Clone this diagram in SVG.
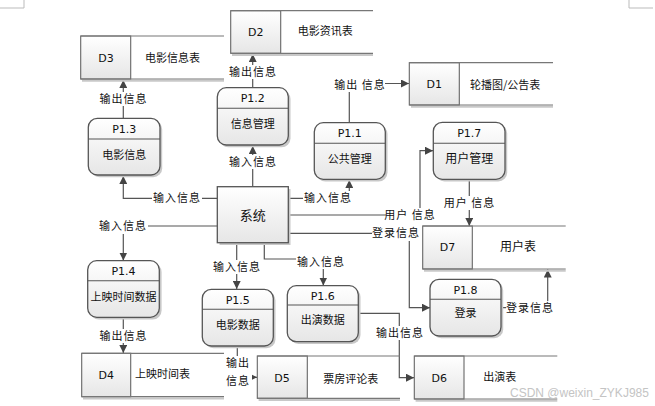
<svg xmlns="http://www.w3.org/2000/svg" width="655" height="406" viewBox="0 0 655 406">
<style>
.t{font-family:"Noto Sans CJK SC","Microsoft YaHei",sans-serif;font-size:11px;fill:#111}
.c{text-anchor:middle}
.id{font-family:"DejaVu Sans","Noto Sans",sans-serif;font-size:11px;fill:#111;text-anchor:middle}
.lbl{font-family:"Noto Sans CJK SC",sans-serif;font-size:11px;fill:#111;text-anchor:middle;letter-spacing:1px}
.bg{fill:#fff}
.conn{fill:none;stroke:#555;stroke-width:1.2}
.pbox{fill:url(#g);stroke:#555;stroke-width:1.3}
.sh{fill:#c8c8c8}
.shl{stroke:#c8c8c8;stroke-width:2;fill:none}
.div{stroke:#555;stroke-width:1.1}
.ds{fill:url(#g);stroke:#666;stroke-width:1.1}
.dl{stroke:#777;stroke-width:1.2}
</style>
<defs>
<linearGradient id="g" x1="0" y1="0" x2="0" y2="1">
<stop offset="0" stop-color="#ffffff"/>
<stop offset="1" stop-color="#e6e6e6"/>
</linearGradient>
<marker id="a" markerUnits="userSpaceOnUse" markerWidth="9" markerHeight="8" refX="8" refY="4" orient="auto">
<path d="M0,0 L8,4 L0,8 z" fill="#444"/>
</marker>
</defs>
<rect width="655" height="406" fill="#fff"/>
<path d="M24,0 V8 H0 M629,0 V8 H653" stroke="#bbb" stroke-width="1" fill="none"/>

<g id="connectors">
<path class="conn" d="M123.3,118 V80" marker-end="url(#a)"/>
<path class="conn" d="M252.7,87.7 V54" marker-end="url(#a)"/>
<path class="conn" d="M252.7,186.7 V146" marker-end="url(#a)"/>
<path class="conn" d="M349.3,122.7 V83.5 H409" marker-end="url(#a)"/>
<path class="conn" d="M217.3,198.3 H123.3 V176" marker-end="url(#a)"/>
<path class="conn" d="M217.3,226 H123.3 V260.5" marker-end="url(#a)"/>
<path class="conn" d="M123.3,317.3 V353" marker-end="url(#a)"/>
<path class="conn" d="M288.3,198.3 H349.3 V180" marker-end="url(#a)"/>
<path class="conn" d="M288.3,215 H420 V150.7 H433" marker-end="url(#a)"/>
<path class="conn" d="M469.3,179.3 V226" marker-end="url(#a)"/>
<path class="conn" d="M288.3,233.3 H409.3 V307.7 H430" marker-end="url(#a)"/>
<path class="conn" d="M501,307.7 H547.7 V269.5" marker-end="url(#a)"/>
<path class="conn" d="M236.7,242.7 V289" marker-end="url(#a)"/>
<path class="conn" d="M264.3,242.7 V259 H323.3 V285.5" marker-end="url(#a)"/>
<path class="conn" d="M237.3,346 V377.3 H257" marker-end="url(#a)"/>
<path class="conn" d="M358.3,313.3 H399.3 V377.7 H414" marker-end="url(#a)"/>
</g>

<g id="labels">
<rect class="bg" x="99" y="92" width="48" height="14"/><text class="lbl" x="123.5" y="103">输出信息</text>
<rect class="bg" x="228" y="65" width="49" height="14"/><text class="lbl" x="253" y="76">输出信息</text>
<rect class="bg" x="228" y="155" width="49" height="14"/><text class="lbl" x="253" y="166">输入信息</text>
<rect class="bg" x="335" y="78" width="50" height="14"/><text class="lbl" x="360" y="89">输出 信息</text>
<rect class="bg" x="152" y="191" width="50" height="14"/><text class="lbl" x="177" y="202">输入信息</text>
<rect class="bg" x="98" y="219" width="50" height="15"/><text class="lbl" x="123" y="230">输入信息</text>
<rect class="bg" x="99" y="329" width="49" height="14"/><text class="lbl" x="123.5" y="340">输出信息</text>
<rect class="bg" x="303" y="191" width="50" height="14"/><text class="lbl" x="328" y="202">输入信息</text>
<rect class="bg" x="386" y="208" width="48" height="14"/><text class="lbl" x="410" y="219">用户 信息</text>
<rect class="bg" x="445" y="196" width="49" height="14"/><text class="lbl" x="469.5" y="207">用户 信息</text>
<rect class="bg" x="372" y="226" width="48" height="15"/><text class="lbl" x="396" y="237">登录信息</text>
<rect class="bg" x="506" y="301" width="48" height="14"/><text class="lbl" x="530" y="312">登录信息</text>
<rect class="bg" x="212" y="260" width="50" height="14"/><text class="lbl" x="237" y="271">输入信息</text>
<rect class="bg" x="296" y="255" width="50" height="14"/><text class="lbl" x="321" y="266">输入信息</text>
<rect class="bg" x="226" y="356" width="26" height="32"/><text class="lbl" x="238" y="367">输出</text><text class="lbl" x="238" y="385">信息</text>
<rect class="bg" x="375" y="326" width="49" height="14"/><text class="lbl" x="400" y="337">输出信息</text>
</g>

<g id="system">
<rect class="sh" x="219.5" y="189" width="71" height="56"/>
<rect class="pbox" x="217.3" y="186.7" width="71" height="56"/>
<text class="t c" x="252.8" y="219.5" style="font-size:13px">系统</text>
</g>

<g id="P1.3">
<rect class="sh" x="90.5" y="120.5" width="71.7" height="56.7" rx="9"/>
<rect class="pbox" x="88.3" y="118.3" width="71.7" height="56.7" rx="9"/>
<line class="div" x1="88.3" y1="139" x2="160" y2="139"/>
<text class="id" x="124.2" y="133">P1.3</text>
<text class="t c" x="124.2" y="159">电影信息</text>
</g>
<g id="P1.2">
<rect class="sh" x="219.5" y="90" width="71" height="57.3" rx="9"/>
<rect class="pbox" x="217.3" y="87.7" width="71" height="57.3" rx="9"/>
<line class="div" x1="217.3" y1="108.3" x2="288.3" y2="108.3"/>
<text class="id" x="252.8" y="102">P1.2</text>
<text class="t c" x="252.8" y="128">信息管理</text>
</g>
<g id="P1.1">
<rect class="sh" x="316.5" y="125" width="71" height="56.6" rx="9"/>
<rect class="pbox" x="314.3" y="122.7" width="71" height="56.6" rx="9"/>
<line class="div" x1="314.3" y1="143.3" x2="385.3" y2="143.3"/>
<text class="id" x="349.8" y="137">P1.1</text>
<text class="t c" x="349.8" y="163">公共管理</text>
</g>
<g id="P1.7">
<rect class="sh" x="435.5" y="124.5" width="71.7" height="57" rx="9"/>
<rect class="pbox" x="433.3" y="122.3" width="71.7" height="57" rx="9"/>
<line class="div" x1="433.3" y1="143.3" x2="505" y2="143.3"/>
<text class="id" x="469.2" y="137">P1.7</text>
<text class="t c" x="469.2" y="162.5" style="font-size:12px">用户管理</text>
</g>
<g id="P1.4">
<rect class="sh" x="90" y="263" width="71.6" height="56.6" rx="9"/>
<rect class="pbox" x="87.7" y="260.7" width="71.6" height="56.6" rx="9"/>
<line class="div" x1="87.7" y1="280.7" x2="159.3" y2="280.7"/>
<text class="id" x="123.5" y="275">P1.4</text>
<text class="t c" x="123.5" y="301">上映时间数据</text>
</g>
<g id="P1.5">
<rect class="sh" x="204.5" y="291.5" width="71" height="56.7" rx="9"/>
<rect class="pbox" x="202.3" y="289.3" width="71" height="56.7" rx="9"/>
<line class="div" x1="202.3" y1="309.3" x2="273.3" y2="309.3"/>
<text class="id" x="237.8" y="304">P1.5</text>
<text class="t c" x="237.8" y="329">电影数据</text>
</g>
<g id="P1.6">
<rect class="sh" x="289.5" y="288" width="71" height="56" rx="9"/>
<rect class="pbox" x="287.3" y="285.7" width="71" height="56" rx="9"/>
<line class="div" x1="287.3" y1="305" x2="358.3" y2="305"/>
<text class="id" x="322.8" y="299.5">P1.6</text>
<text class="t c" x="322.8" y="324">出演数据</text>
</g>
<g id="P1.8">
<rect class="sh" x="432.2" y="281.5" width="71" height="56.7" rx="9"/>
<rect class="pbox" x="430" y="279.3" width="71" height="56.7" rx="9"/>
<line class="div" x1="430" y1="299.3" x2="501" y2="299.3"/>
<text class="id" x="465.5" y="294">P1.8</text>
<text class="t c" x="465.5" y="317">登录</text>
</g>

<g id="D2">
<line class="shl" x1="232" y1="55" x2="373" y2="55"/>
<rect class="ds" x="230.7" y="10.7" width="50" height="42.6"/>
<line class="dl" x1="230.7" y1="10.7" x2="373" y2="10.7"/>
<line class="dl" x1="230.7" y1="53.3" x2="373" y2="53.3"/>
<text class="id" x="255.7" y="36">D2</text>
<text class="t" x="297.7" y="35">电影资讯表</text>
</g>
<g id="D3">
<line class="shl" x1="82" y1="80.7" x2="224" y2="80.7"/>
<rect class="ds" x="80.7" y="36" width="50" height="43"/>
<line class="dl" x1="80.7" y1="36" x2="224" y2="36"/>
<line class="dl" x1="80.7" y1="79" x2="224" y2="79"/>
<text class="id" x="106" y="62">D3</text>
<text class="t" x="145" y="62">电影信息表</text>
</g>
<g id="D1">
<line class="shl" x1="411" y1="106.7" x2="553" y2="106.7"/>
<rect class="ds" x="409.3" y="62.7" width="50" height="42.3"/>
<line class="dl" x1="409.3" y1="62.7" x2="553" y2="62.7"/>
<line class="dl" x1="409.3" y1="105" x2="553" y2="105"/>
<text class="id" x="434.3" y="88">D1</text>
<text class="t" x="470" y="89">轮播图/公告表</text>
</g>
<g id="D7">
<line class="shl" x1="424" y1="270.7" x2="565.7" y2="270.7"/>
<rect class="ds" x="422.7" y="226" width="49.6" height="43"/>
<line class="dl" x1="422.7" y1="226" x2="565.7" y2="226"/>
<line class="dl" x1="422.7" y1="269" x2="565.7" y2="269"/>
<text class="id" x="447.5" y="251">D7</text>
<text class="t" x="500" y="251" style="font-size:12px">用户表</text>
</g>
<g id="D4">
<line class="shl" x1="83" y1="398.4" x2="224" y2="398.4"/>
<rect class="ds" x="81.7" y="353.3" width="49" height="43.4"/>
<line class="dl" x1="81.7" y1="353.3" x2="224" y2="353.3"/>
<line class="dl" x1="81.7" y1="396.7" x2="224" y2="396.7"/>
<text class="id" x="106.2" y="379">D4</text>
<text class="t" x="135" y="378">上映时间表</text>
</g>
<g id="D5">
<line class="shl" x1="258.6" y1="400" x2="400" y2="400"/>
<rect class="ds" x="257.3" y="356" width="50" height="42.3"/>
<line class="dl" x1="257.3" y1="356" x2="400" y2="356"/>
<line class="dl" x1="257.3" y1="398.3" x2="400" y2="398.3"/>
<text class="id" x="282" y="382">D5</text>
<text class="t" x="323.3" y="383">票房评论表</text>
</g>
<g id="D6">
<line class="shl" x1="415.6" y1="400.7" x2="557.3" y2="400.7"/>
<rect class="ds" x="414.3" y="356" width="49.7" height="43"/>
<line class="dl" x1="414.3" y1="356" x2="557.3" y2="356"/>
<line class="dl" x1="414.3" y1="399" x2="557.3" y2="399"/>
<text class="id" x="439.3" y="382">D6</text>
<text class="t" x="483.3" y="381">出演表</text>
</g>

<text x="510" y="397" style="font-family:'Liberation Sans',sans-serif;font-size:12px;fill:#c4c4c4">CSDN @weixin_ZYKJ985</text>
</svg>
